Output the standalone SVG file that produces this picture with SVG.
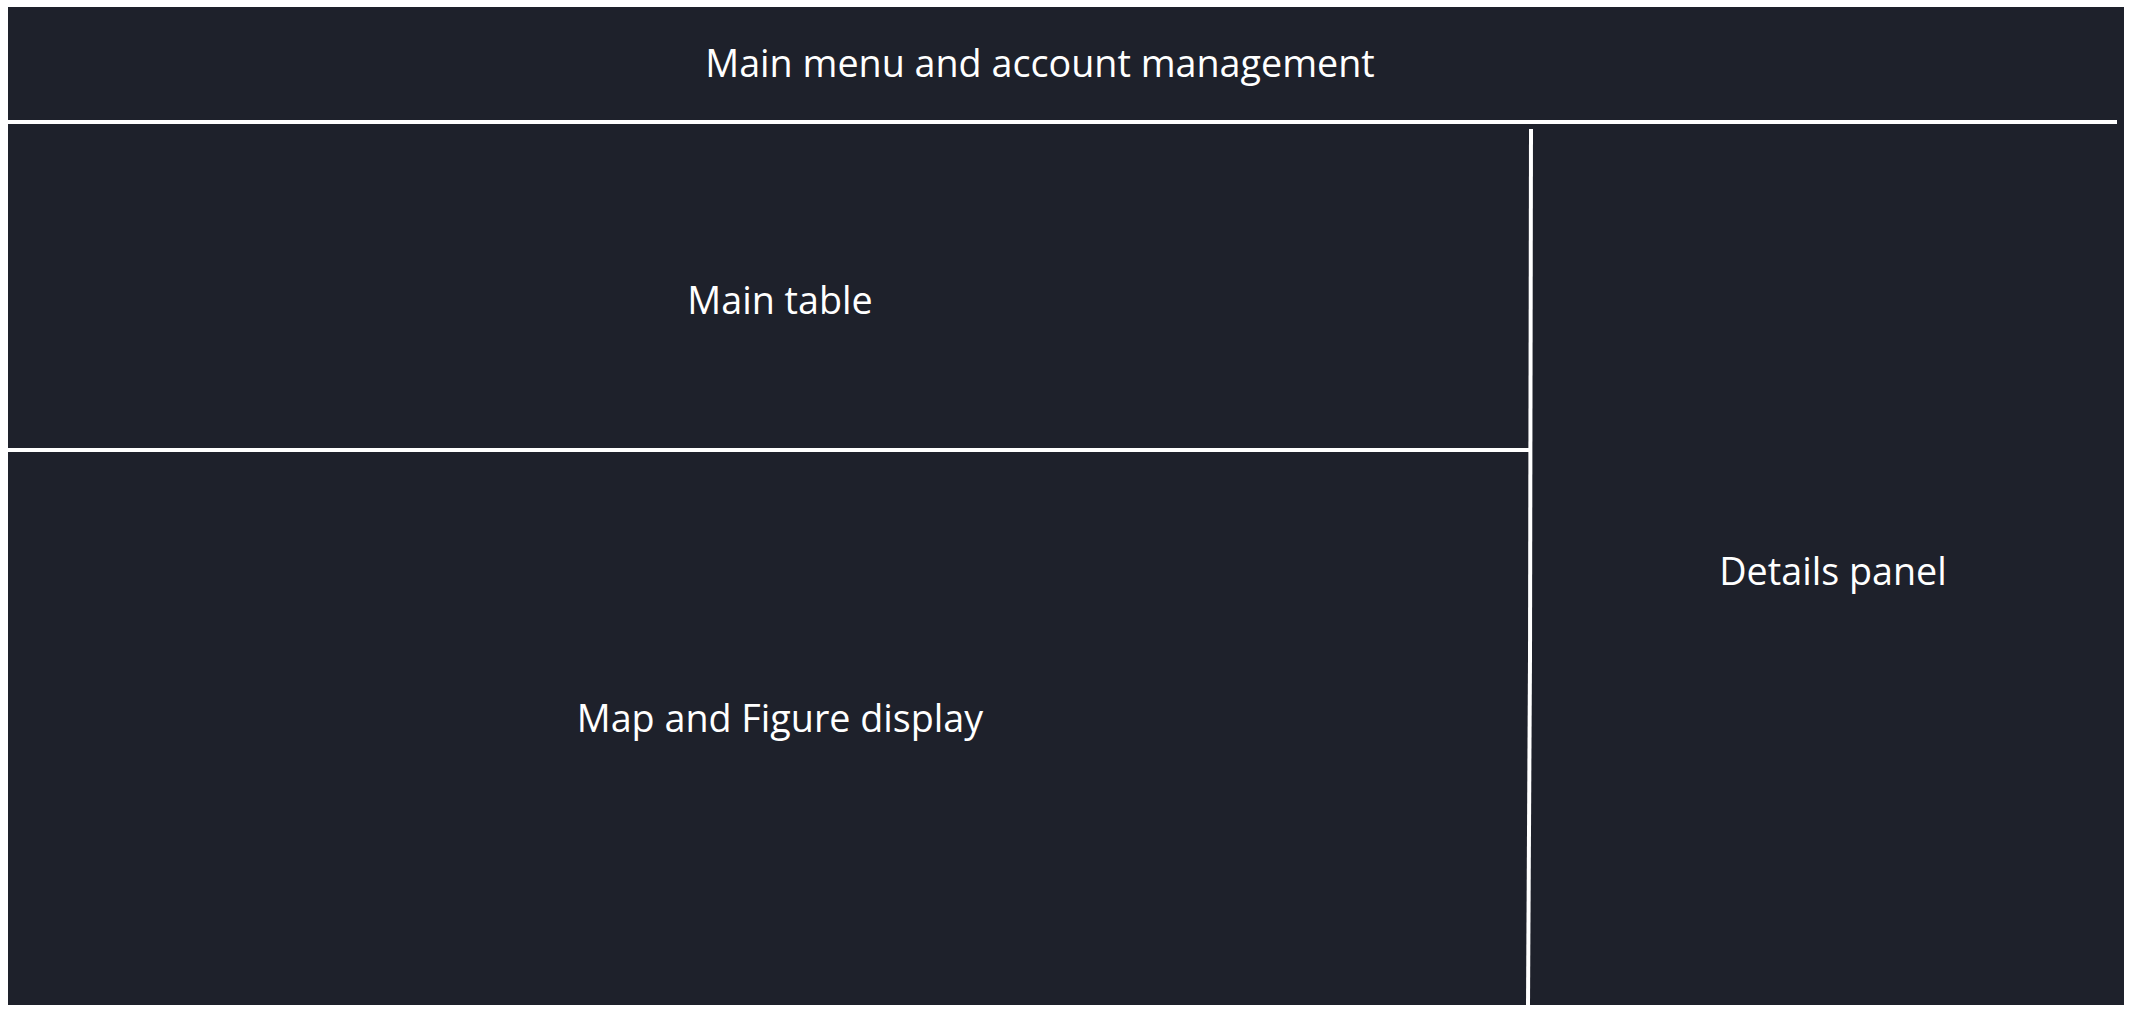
<svg xmlns="http://www.w3.org/2000/svg" width="2132" height="1014" viewBox="0 0 2132 1014">
<style>
.lbl{font-family:"Open Sans","Noto Sans",sans-serif;font-size:37.7px;fill:#ffffff;text-anchor:middle;dominant-baseline:central}
.sep{stroke:#ffffff;stroke-width:4;fill:none}
</style>
<rect x="0" y="0" width="2132" height="1014" fill="#ffffff"/>
<rect x="8" y="7" width="2116" height="998" fill="#1e212b"/>
<g id="header"><text class="lbl" x="1040" y="62">Main menu and account management</text></g>
<g id="main-table"><text class="lbl" x="780" y="299">Main table</text></g>
<g id="map-figure"><text class="lbl" x="780" y="717">Map and Figure display</text></g>
<g id="details"><text class="lbl" x="1833" y="570">Details panel</text></g>
<g id="connectors">
<line class="sep" x1="8" y1="122" x2="2117" y2="122"/>
<line class="sep" x1="8" y1="450" x2="1530" y2="450"/>
<line class="sep" x1="1531" y1="129" x2="1530" y2="657"/>
<line class="sep" x1="1530" y1="657" x2="1528" y2="1006"/>
</g>
</svg>
